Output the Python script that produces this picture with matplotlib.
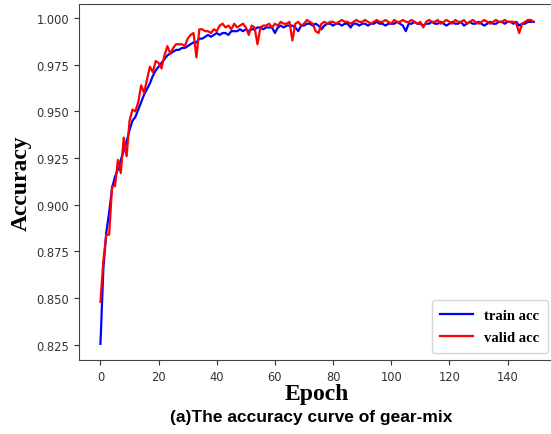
import numpy as np
import matplotlib
matplotlib.use("Agg")
import matplotlib.pyplot as plt

# ── DATA ──────────────────────────────────────────────────────────────────────
epochs = np.arange(150)

train_acc = [
    0.8255, 0.866, 0.885, 0.896, 0.909, 0.915, 0.919, 0.924, 0.929, 0.934,
    0.940, 0.945, 0.947, 0.951, 0.955, 0.959, 0.962, 0.965, 0.969, 0.972,
    0.974, 0.976, 0.978, 0.980, 0.981, 0.982, 0.983, 0.983, 0.984, 0.984,
    0.985, 0.986, 0.987, 0.987, 0.989, 0.989, 0.990, 0.991, 0.990, 0.991,
    0.992, 0.991, 0.992, 0.992, 0.991, 0.993, 0.993, 0.993, 0.994, 0.993,
    0.994, 0.993, 0.994, 0.994, 0.995, 0.995, 0.994, 0.995, 0.995, 0.995,
    0.992, 0.995, 0.996, 0.995, 0.996, 0.996, 0.996, 0.995, 0.993, 0.996,
    0.996, 0.997, 0.997, 0.996, 0.997, 0.996, 0.994, 0.996, 0.997, 0.997,
    0.996, 0.997, 0.997, 0.996, 0.997, 0.997, 0.995, 0.997, 0.997, 0.996,
    0.997, 0.997, 0.996, 0.997, 0.997, 0.998, 0.997, 0.997, 0.996, 0.997,
    0.997, 0.997, 0.998, 0.997, 0.996, 0.993, 0.997, 0.997, 0.998, 0.997,
    0.997, 0.996, 0.997, 0.997, 0.998, 0.997, 0.997, 0.998, 0.997, 0.996,
    0.997, 0.998, 0.997, 0.997, 0.998, 0.996, 0.997, 0.998, 0.997, 0.997,
    0.998, 0.997, 0.996, 0.997, 0.998, 0.997, 0.997, 0.998, 0.998, 0.997,
    0.998, 0.998, 0.997, 0.998, 0.996, 0.997, 0.997, 0.998, 0.998, 0.998,
]

valid_acc = [
    0.848, 0.870, 0.884, 0.884, 0.910, 0.910, 0.924, 0.917, 0.936, 0.926,
    0.945, 0.951, 0.950, 0.955, 0.964, 0.960, 0.967, 0.974, 0.971, 0.977,
    0.976, 0.973, 0.980, 0.985, 0.981, 0.984, 0.986, 0.986, 0.986, 0.985,
    0.989, 0.991, 0.992, 0.979, 0.994, 0.994, 0.993, 0.993, 0.992, 0.994,
    0.993, 0.996, 0.997, 0.995, 0.996, 0.994, 0.997, 0.995, 0.996, 0.997,
    0.995, 0.991, 0.996, 0.995, 0.986, 0.995, 0.996, 0.996, 0.997, 0.995,
    0.997, 0.996, 0.998, 0.997, 0.997, 0.998, 0.988, 0.997, 0.998, 0.996,
    0.997, 0.999, 0.998, 0.997, 0.993, 0.992, 0.997, 0.998, 0.997, 0.998,
    0.998, 0.997, 0.998, 0.999, 0.998, 0.998, 0.997, 0.998, 0.999, 0.998,
    0.998, 0.999, 0.998, 0.997, 0.998, 0.999, 0.998, 0.998, 0.999, 0.998,
    0.997, 0.999, 0.998, 0.998, 0.999, 0.998, 0.998, 0.999, 0.998, 0.997,
    0.998, 0.995, 0.998, 0.999, 0.998, 0.998, 0.999, 0.997, 0.998, 0.999,
    0.998, 0.997, 0.999, 0.998, 0.998, 0.999, 0.997, 0.998, 0.999, 0.998,
    0.997, 0.998, 0.999, 0.998, 0.997, 0.998, 0.999, 0.998, 0.998, 0.999,
    0.998, 0.998, 0.998, 0.997, 0.992, 0.997, 0.998, 0.999, 0.999, 0.998,
]

yticks = [0.825, 0.850, 0.875, 0.900, 0.925, 0.950, 0.975, 1.000]
xticks = [0, 20, 40, 60, 80, 100, 120, 140]

# ── PLOT ──────────────────────────────────────────────────────────────────────
fig = plt.figure(figsize=(5.51, 4.35), dpi=100)
ax = fig.add_axes([0.143, 0.170, 0.865, 0.819])

ax.plot(epochs, train_acc, color="blue", linewidth=1.6, label="train acc")
ax.plot(epochs, valid_acc, color="red", linewidth=1.6, label="valid acc")

ax.set_xticks(xticks)
ax.set_yticks(yticks)
ax.set_yticklabels([f"{v:.3f}" for v in yticks])
ax.tick_params(labelsize=8.3, colors="#333333", length=3.5)
for s in ax.spines.values():
    s.set_color("#444444")

serif = ["Liberation Serif", "DejaVu Serif"]
ax.set_xlabel("Epoch", fontsize=17, fontweight="bold", family=serif, labelpad=0)
ax.set_ylabel("Accuracy", fontsize=17, fontweight="bold", family=serif, labelpad=3)

leg = ax.legend(loc="lower right", prop={"family": serif, "weight": "bold", "size": 10.5},
                handlelength=2.2, borderpad=0.6, labelspacing=0.6)

fig.text(0.565, 0.040, "(a)The accuracy curve of gear-mix", ha="center", va="center",
         fontsize=12.5, fontweight="bold", family=["Liberation Sans", "DejaVu Sans"])

fig.savefig("out.png", dpi=100)
